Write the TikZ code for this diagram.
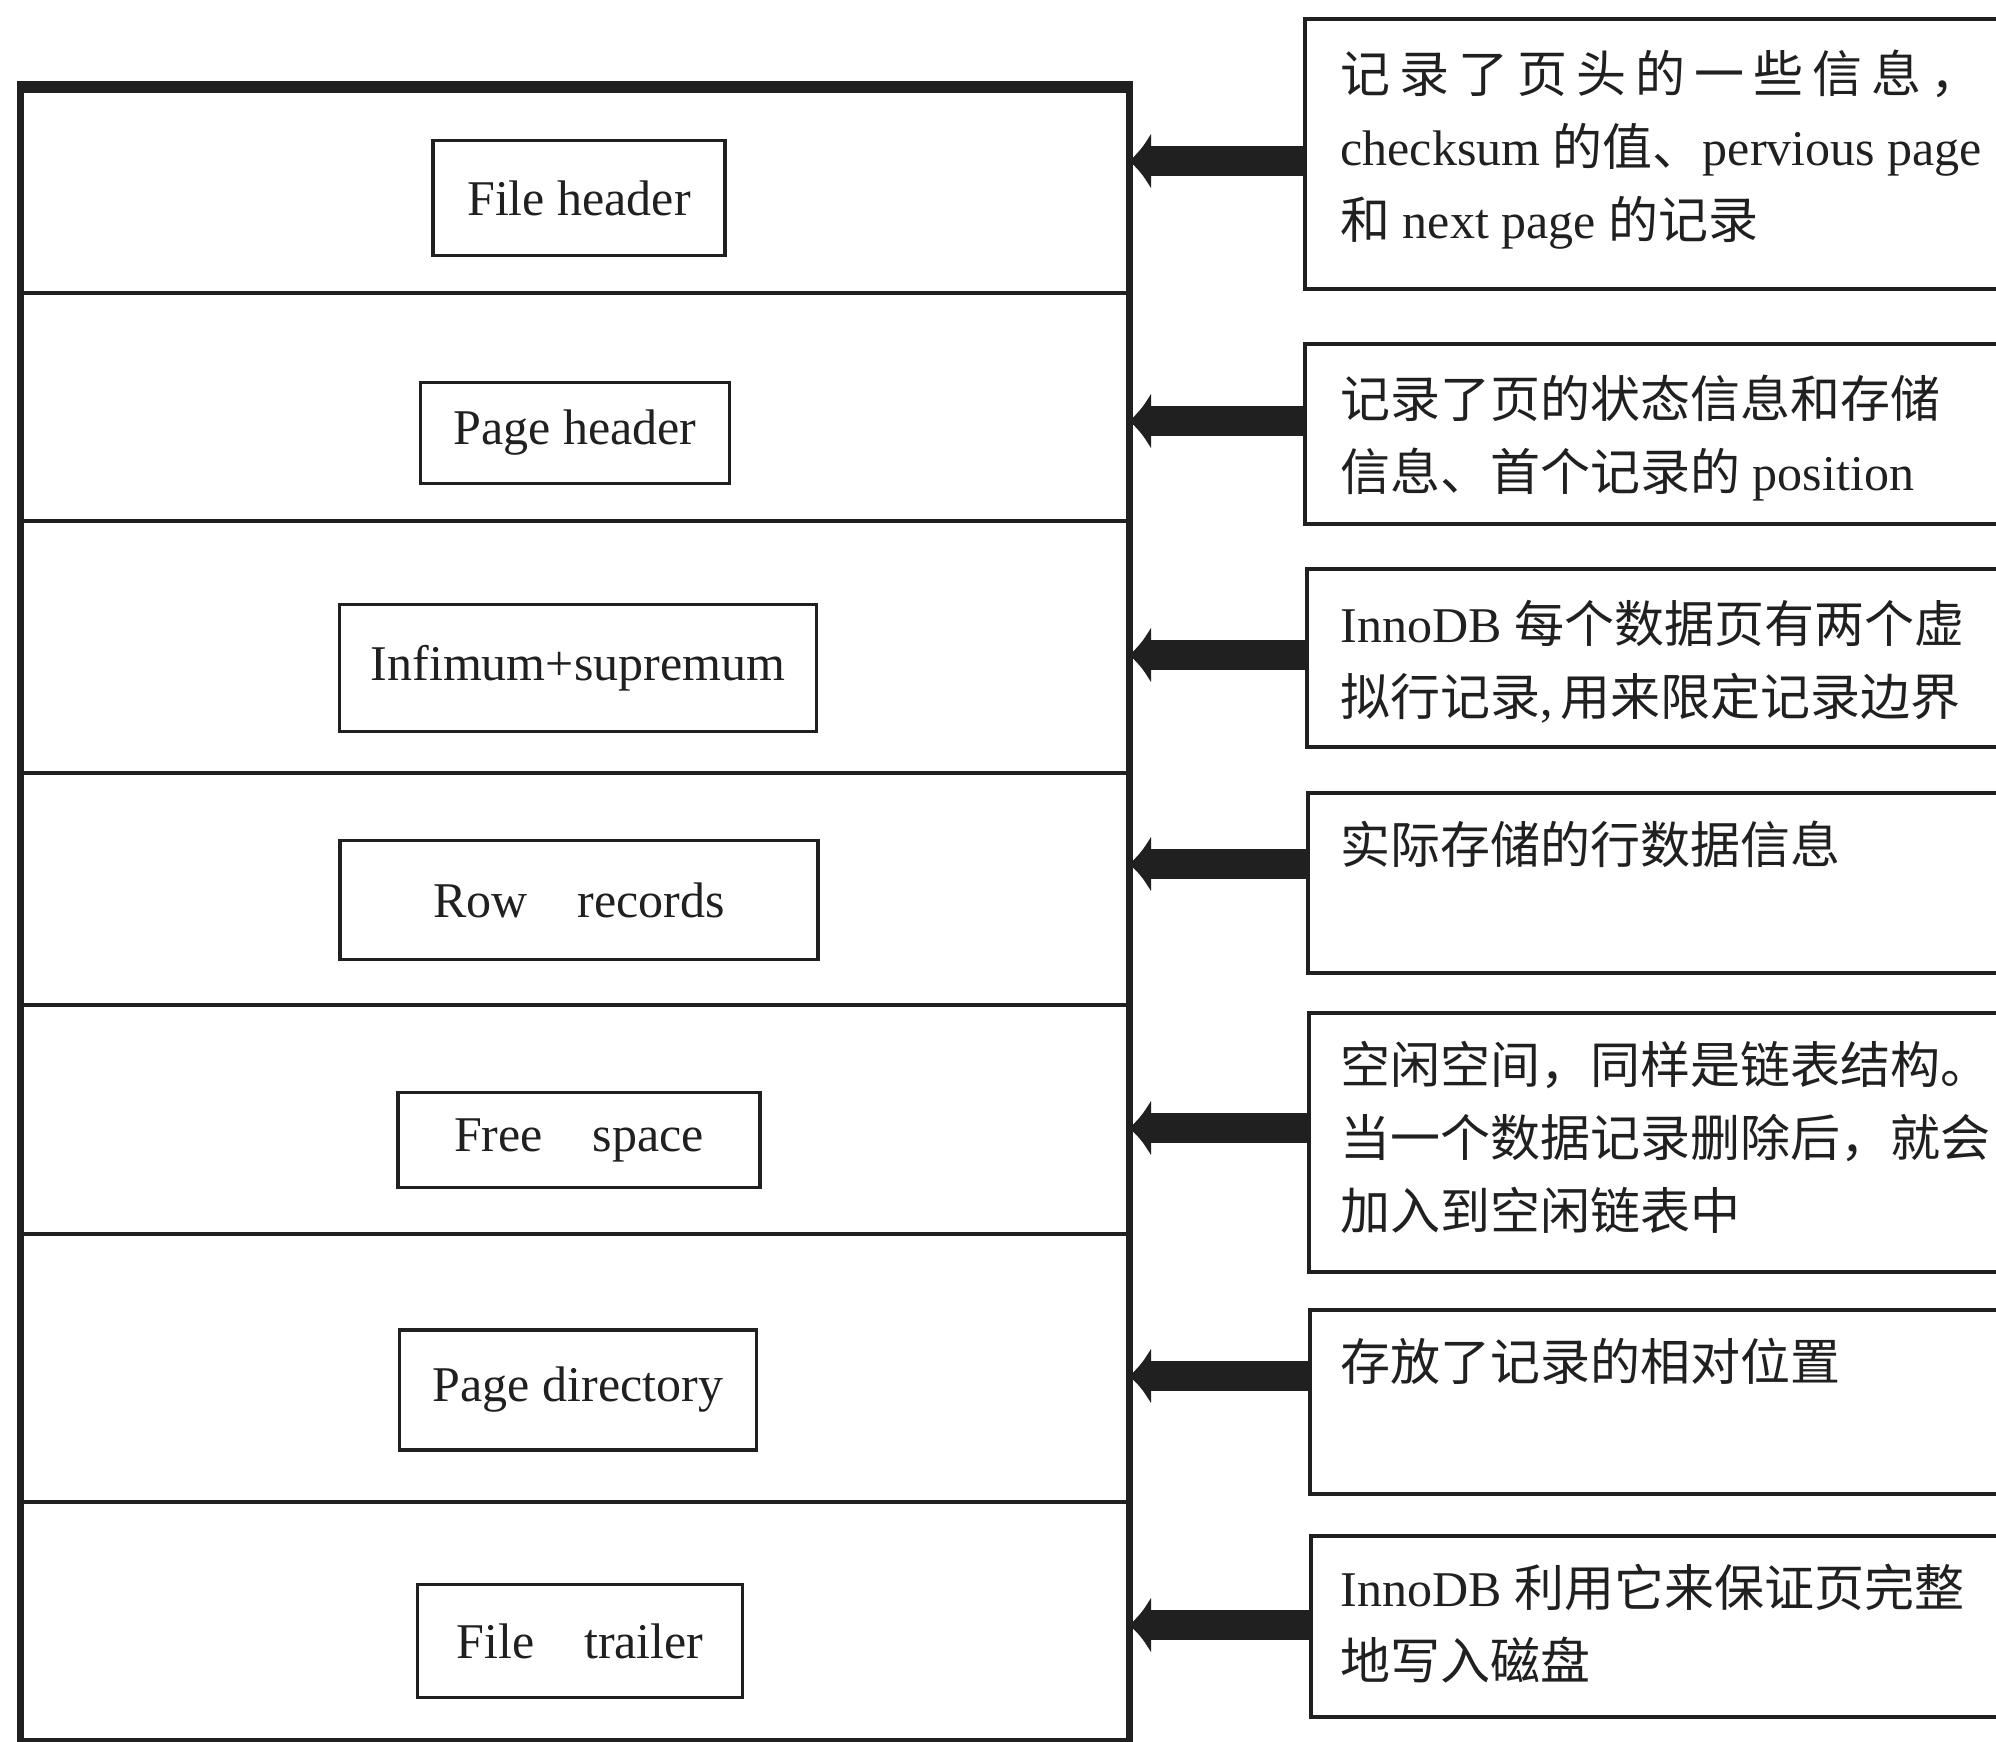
\documentclass[tikz,border=0pt]{standalone}
\usepackage{fontspec}
\setmainfont{Liberation Serif}
\newfontfamily\cjk{Noto Sans CJK SC}
\usetikzlibrary{arrows.meta}
\definecolor{ink}{HTML}{202020}
\begin{document}
\begin{tikzpicture}[x=0.5pt,y=-0.5pt,
  every node/.style={text=ink},
  outerframe/.style={draw=ink, line width=3.5pt, inner sep=0pt, anchor=north west},
  divider/.style={draw=ink, line width=2.4pt},
  field/.style={draw=ink, line width=1.6pt, inner sep=0pt, font=\fontsize{25}{30}\selectfont},
  notebox/.style={draw=ink, line width=2.2pt, inner sep=0pt, anchor=north west, minimum width=360pt},
  notetext/.style={anchor=north west, inner sep=0pt, align=left, font=\fontsize{25}{36.5}\selectfont},
  pointer/.style={draw=ink, line width=15pt, -{Latex[length=11pt,width=29pt]}},
]
\useasboundingbox (0,0) rectangle (1996,1741);
\clip (0,0) rectangle (1996,1741);

% the page and its sections
\node[outerframe, minimum width=554.5pt, minimum height=826pt] (page) at (17,86) {};
\draw[ink, line width=5pt] (page.north west) -- (page.north east);
\foreach \yy in {293,521,773,1005,1234,1502}
  \draw[divider] (17,\yy) -- (1126,\yy);

\node[field, minimum width=146pt,   minimum height=57.5pt] (fh) at (579,198)  {File header};
\node[field, minimum width=154.5pt, minimum height=50.5pt] (ph) at (575,433)  {Page header};
\node[field, minimum width=238.5pt, minimum height=63.5pt] (is) at (578,668)  {Infimum+supremum};
\node[field, minimum width=239pt,   minimum height=59.5pt] (rr) at (579,900)  {Row\quad records};
\node[field, minimum width=181pt,   minimum height=47.5pt] (fs) at (579,1140) {Free\quad space};
\node[field, minimum width=178.5pt, minimum height=60pt]   (pd) at (578,1390) {Page directory};
\node[field, minimum width=162.5pt, minimum height=56.5pt] (ft) at (580,1641) {File\quad trailer};

% explanation boxes
\node[notebox, minimum height=135pt] (n1) at (1303,17)   {};
\node[notebox, minimum height=90pt]  (n2) at (1303,342)  {};
\node[notebox, minimum height=89pt]  (n3) at (1305,567)  {};
\node[notebox, minimum height=90pt]  (n4) at (1306,791)  {};
\node[notebox, minimum height=129.5pt] (n5) at (1307,1011) {};
\node[notebox, minimum height=92pt]  (n6) at (1308,1308) {};
\node[notebox, minimum height=90.5pt] (n7) at (1309,1534) {};

\node[notetext] (n1t) at ([xshift=18.5pt,yshift=-16.5pt]n1.north west)
  {\makebox[320pt][s]{\cjk 记\hfil 录\hfil 了\hfil 页\hfil 头\hfil 的\hfil 一\hfil 些\hfil 信\hfil 息\hfil ，}\\
   checksum {\cjk 的值、}pervious page\\
   {\cjk 和} next page {\cjk 的记录}};
\node[notetext] (n2t) at ([xshift=18.5pt,yshift=-16.5pt]n2.north west)
  {{\cjk 记录了页的状态信息和存储}\\
   {\cjk 信息、首个记录的} position};
\node[notetext] (n3t) at ([xshift=17.5pt,yshift=-16.5pt]n3.north west)
  {InnoDB {\cjk 每个数据页有两个虚}\\
   {\cjk 拟行记录},\hspace{4pt}{\cjk 用来限定记录边界}};
\node[notetext] (n4t) at ([xshift=17pt,yshift=-15pt]n4.north west)
  {{\cjk 实际存储的行数据信息}};
\node[notetext] (n5t) at ([xshift=16.5pt,yshift=-15pt]n5.north west)
  {{\cjk 空闲空间，同样是链表结构。}\\
   {\cjk 当一个数据记录删除后，就会}\\
   {\cjk 加入到空闲链表中}};
\node[notetext] (n6t) at ([xshift=16pt,yshift=-15pt]n6.north west)
  {{\cjk 存放了记录的相对位置}};
\node[notetext] (n7t) at ([xshift=15.5pt,yshift=-15pt]n7.north west)
  {InnoDB {\cjk 利用它来保证页完整}\\
   {\cjk 地写入磁盘}};

% arrow ends on the right edge of the page
\coordinate (a1) at (1129,161);
\coordinate (a2) at (1129,421);
\coordinate (a3) at (1129,655);
\coordinate (a4) at (1129,864);
\coordinate (a5) at (1129,1128);
\coordinate (a6) at (1129,1376);
\coordinate (a7) at (1129,1625);

\draw[pointer] (n1.west |- a1) -- (a1);
\draw[pointer] (n2.west |- a2) -- (a2);
\draw[pointer] (n3.west |- a3) -- (a3);
\draw[pointer] (n4.west |- a4) -- (a4);
\draw[pointer] (n5.west |- a5) -- (a5);
\draw[pointer] (n6.west |- a6) -- (a6);
\draw[pointer] (n7.west |- a7) -- (a7);
\end{tikzpicture}
\end{document}
